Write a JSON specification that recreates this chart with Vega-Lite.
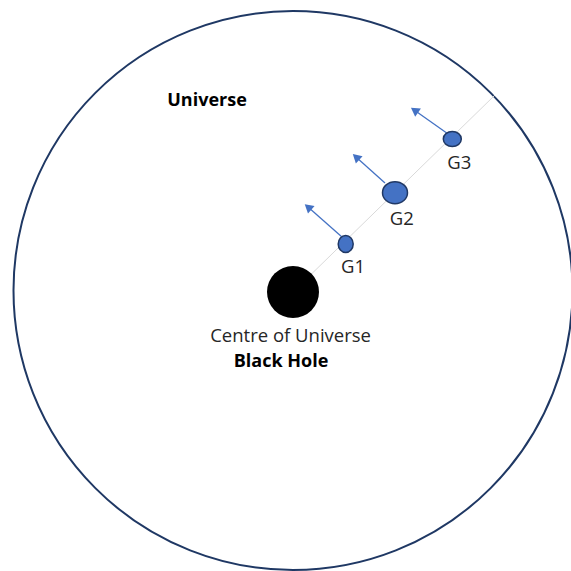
{
  "$schema": "https://vega.github.io/schema/vega-lite/v6.json",
  "width": 571,
  "height": 571,
  "autosize": {"type": "none"},
  "padding": 0,
  "background": "white",
  "config": {"view": {"stroke": null}},
  "encoding": {
    "x": {"field": "x", "type": "quantitative", "scale": {"domain": [-293, 278], "nice": false, "zero": false}, "axis": null},
    "y": {"field": "y", "type": "quantitative", "scale": {"domain": [-279, 292], "nice": false, "zero": false}, "axis": null}
  },
  "layer": [
    {
      "data": {"values": [{"name": "Universe", "x": 0, "y": 1.5}]},
      "mark": {"type": "point", "shape": "circle", "filled": false, "size": 312481, "stroke": "#1f3864", "strokeWidth": 2, "opacity": 1}
    },
    {
      "data": {"values": [{"x": 0, "y": 0, "x2": 202, "y2": 197}]},
      "mark": {"type": "rule", "color": "#d9d9d9", "strokeWidth": 1},
      "encoding": {"x2": {"field": "x2"}, "y2": {"field": "y2"}}
    },
    {
      "data": {"values": [{"name": "Black Hole", "x": 0, "y": 0}]},
      "mark": {"type": "point", "shape": "circle", "filled": true, "size": 2704, "color": "#000000", "opacity": 1}
    },
    {
      "data": {"values": [
        {"name": "G1", "x": 48.7, "y": 55.3, "x2": 15, "y2": 85, "angle": 311},
        {"name": "G2", "x": 92, "y": 109, "x2": 63, "y2": 135, "angle": 312},
        {"name": "G3", "x": 153.7, "y": 159, "x2": 121.5, "y2": 181.8, "angle": 305}
      ]},
      "layer": [
        {
          "mark": {"type": "rule", "color": "#4472c4", "strokeWidth": 1.3},
          "encoding": {"x2": {"field": "x2"}, "y2": {"field": "y2"}}
        },
        {
          "mark": {"type": "point", "shape": "triangle-up", "filled": true, "size": 100, "color": "#4472c4", "opacity": 1},
          "encoding": {
            "x": {"field": "x2", "type": "quantitative"},
            "y": {"field": "y2", "type": "quantitative"},
            "angle": {"field": "angle", "type": "quantitative", "scale": {"domain": [0, 360], "range": [0, 360]}}
          }
        }
      ]
    },
    {
      "data": {"values": [{"name": "G1", "x": 52.7, "y": 48}]},
      "mark": {"type": "point", "filled": true, "fill": "#4472c4", "stroke": "#203864", "strokeWidth": 1.5, "opacity": 1, "size": 289, "shape": "M-0.882,0A0.882,1,0,1,1,0.882,0A0.882,1,0,1,1,-0.882,0Z"}
    },
    {
      "data": {"values": [{"name": "G2", "x": 102, "y": 99.3}]},
      "mark": {"type": "point", "filled": true, "fill": "#4472c4", "stroke": "#203864", "strokeWidth": 1.5, "opacity": 1, "size": 625, "shape": "M-1,0A1,0.88,0,1,1,1,0A1,0.88,0,1,1,-1,0Z"}
    },
    {
      "data": {"values": [{"name": "G3", "x": 159.3, "y": 153}]},
      "mark": {"type": "point", "filled": true, "fill": "#4472c4", "stroke": "#203864", "strokeWidth": 1.5, "opacity": 1, "size": 324, "shape": "M-1,0A1,0.833,0,1,1,1,0A1,0.833,0,1,1,-1,0Z"}
    },
    {
      "data": {"values": [
        {"label": "G1", "x": 60, "y": 25},
        {"label": "G2", "x": 108.7, "y": 73.3},
        {"label": "G3", "x": 166.3, "y": 129},
        {"label": "Centre of Universe", "x": -2.4, "y": -44}
      ]},
      "mark": {"type": "text", "font": "Open Sans", "fontSize": 18.5, "color": "#262626", "align": "center", "baseline": "middle"},
      "encoding": {"text": {"field": "label"}}
    },
    {
      "data": {"values": [
        {"label": "Universe", "x": -86, "y": 191},
        {"label": "Black Hole", "x": -12, "y": -70}
      ]},
      "mark": {"type": "text", "font": "Open Sans", "fontSize": 18, "fontWeight": "bold", "color": "#000000", "align": "center", "baseline": "middle"},
      "encoding": {"text": {"field": "label"}}
    }
  ]
}
